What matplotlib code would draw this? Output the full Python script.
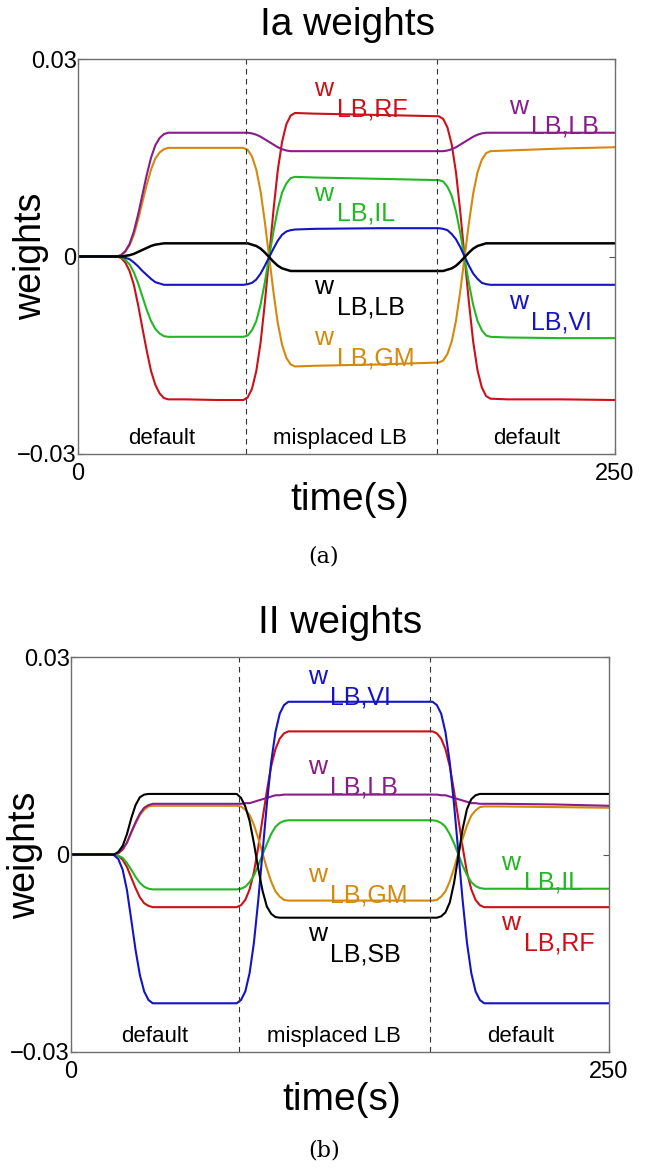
import matplotlib
matplotlib.use("Agg")
import matplotlib.pyplot as plt
from matplotlib.transforms import offset_copy

plt.rcParams['font.family'] = ['Liberation Sans', 'DejaVu Sans']

# sample times (s), shared by every series
t = [0,
     18, 20, 22, 24, 26, 28, 30, 32, 34, 36, 38, 40, 42,
     50, 65,
     77, 79, 81, 83, 85, 87, 89, 91, 93, 95, 97, 99, 101,
     110, 140,
     168, 170, 172, 174, 176, 178, 180, 182, 184, 186, 188, 190, 192,
     200, 225, 250]

# (a) Ia weights
ia_rf = [0,
         0, -0.0002, -0.0009, -0.0022, -0.0043, -0.0074, -0.0109, -0.0143, -0.0174, -0.0195, -0.0208, -0.0215, -0.0217,
         -0.0217, -0.0218,
         -0.0218, -0.0214, -0.0201, -0.0174, -0.0131, -0.0070, 0.0000, 0.0070, 0.0131, 0.0174, 0.0201, 0.0214, 0.0218,
         0.0217, 0.0215,
         0.0213, 0.0209, 0.0196, 0.0170, 0.0127, 0.0067, -0.0002, -0.0070, -0.0130, -0.0173, -0.0199, -0.0212, -0.0216,
         -0.0217, -0.0217, -0.0218]
ia_gm = [0,
         0, 0.0002, 0.0007, 0.0017, 0.0033, 0.0056, 0.0083, 0.0109, 0.0132, 0.0149, 0.0158, 0.0163, 0.0165,
         0.0165, 0.0165,
         0.0165, 0.0162, 0.0152, 0.0132, 0.0099, 0.0052, -0.0001, -0.0054, -0.0101, -0.0134, -0.0154, -0.0164, -0.0167,
         -0.0166, -0.0164,
         -0.0161, -0.0158, -0.0148, -0.0129, -0.0097, -0.0052, 0.0000, 0.0051, 0.0096, 0.0128, 0.0147, 0.0157, 0.0160,
         0.0161, 0.0164, 0.0166]
ia_lb = [0,
         0, 0.0002, 0.0008, 0.0019, 0.0038, 0.0064, 0.0094, 0.0124, 0.0150, 0.0169, 0.0180, 0.0186, 0.0188,
         0.0188, 0.0188,
         0.0188, 0.0188, 0.0187, 0.0185, 0.0182, 0.0178, 0.0174, 0.0170, 0.0166, 0.0163, 0.0161, 0.0160, 0.0160,
         0.0160, 0.0160,
         0.0160, 0.0160, 0.0161, 0.0163, 0.0166, 0.0170, 0.0174, 0.0178, 0.0182, 0.0185, 0.0187, 0.0188, 0.0188,
         0.0188, 0.0188, 0.0188]
ia_il = [0,
         0, -0.0001, -0.0005, -0.0012, -0.0024, -0.0041, -0.0061, -0.0081, -0.0098, -0.0110, -0.0117, -0.0121, -0.0122,
         -0.0122, -0.0122,
         -0.0122, -0.0120, -0.0112, -0.0098, -0.0073, -0.0039, 0.0000, 0.0038, 0.0072, 0.0097, 0.0111, 0.0119, 0.0121,
         0.0120, 0.0118,
         0.0116, 0.0114, 0.0106, 0.0092, 0.0068, 0.0035, -0.0003, -0.0041, -0.0074, -0.0098, -0.0112, -0.0120, -0.0122,
         -0.0123, -0.0124, -0.0124]
ia_vi = [0,
         0, 0.0000, -0.0002, -0.0004, -0.0009, -0.0015, -0.0022, -0.0028, -0.0034, -0.0039, -0.0041, -0.0043, -0.0043,
         -0.0043, -0.0043,
         -0.0043, -0.0042, -0.0040, -0.0035, -0.0026, -0.0014, -0.0001, 0.0012, 0.0024, 0.0033, 0.0038, 0.0040, 0.0041,
         0.0042, 0.0043,
         0.0043, 0.0042, 0.0040, 0.0034, 0.0026, 0.0014, 0.0000, -0.0014, -0.0026, -0.0034, -0.0040, -0.0042, -0.0043,
         -0.0043, -0.0043, -0.0043]
ia_sb = [0,
         0, 0.0000, 0.0001, 0.0002, 0.0004, 0.0007, 0.0010, 0.0013, 0.0016, 0.0018, 0.0019, 0.0020, 0.0020,
         0.0020, 0.0020,
         0.0020, 0.0020, 0.0018, 0.0016, 0.0012, 0.0006, -0.0001, -0.0008, -0.0014, -0.0018, -0.0020, -0.0022, -0.0022,
         -0.0022, -0.0022,
         -0.0022, -0.0022, -0.0020, -0.0018, -0.0014, -0.0008, -0.0001, 0.0006, 0.0012, 0.0016, 0.0018, 0.0020, 0.0020,
         0.0020, 0.0020, 0.0020]

# (b) II weights
ii_vi = [0,
         0, -0.0001, -0.0007, -0.0023, -0.0054, -0.0099, -0.0145, -0.0183, -0.0208, -0.0221, -0.0226, -0.0226, -0.0226,
         -0.0226, -0.0226,
         -0.0226, -0.0221, -0.0208, -0.0180, -0.0134, -0.0070, 0.0003, 0.0076, 0.0140, 0.0186, 0.0214, 0.0227, 0.0232,
         0.0232, 0.0232,
         0.0232, 0.0227, 0.0214, 0.0186, 0.0140, 0.0076, 0.0003, -0.0070, -0.0134, -0.0180, -0.0208, -0.0221, -0.0226,
         -0.0226, -0.0226, -0.0226]
ii_rf = [0,
         0, 0.0000, -0.0002, -0.0008, -0.0019, -0.0035, -0.0051, -0.0065, -0.0074, -0.0078, -0.0080, -0.0080, -0.0080,
         -0.0080, -0.0080,
         -0.0080, -0.0077, -0.0069, -0.0053, -0.0027, 0.0011, 0.0054, 0.0096, 0.0134, 0.0160, 0.0176, 0.0184, 0.0187,
         0.0187, 0.0187,
         0.0187, 0.0184, 0.0176, 0.0160, 0.0134, 0.0096, 0.0054, 0.0011, -0.0027, -0.0053, -0.0069, -0.0077, -0.0080,
         -0.0080, -0.0080, -0.0080]
ii_lb = [0,
         0, 0.0000, 0.0002, 0.0008, 0.0018, 0.0034, 0.0049, 0.0062, 0.0071, 0.0075, 0.0077, 0.0077, 0.0077,
         0.0077, 0.0077,
         0.0077, 0.0077, 0.0078, 0.0078, 0.0080, 0.0082, 0.0084, 0.0086, 0.0088, 0.0090, 0.0090, 0.0091, 0.0091,
         0.0091, 0.0091,
         0.0091, 0.0091, 0.0090, 0.0090, 0.0088, 0.0086, 0.0084, 0.0082, 0.0080, 0.0078, 0.0078, 0.0077, 0.0077,
         0.0077, 0.0076, 0.0074]
ii_sb = [0,
         0, 0.0000, 0.0004, 0.0013, 0.0031, 0.0055, 0.0075, 0.0087, 0.0091, 0.0092, 0.0092, 0.0092, 0.0092,
         0.0092, 0.0092,
         0.0092, 0.0086, 0.0073, 0.0051, 0.0017, -0.0021, -0.0055, -0.0079, -0.0090, -0.0095, -0.0096, -0.0096, -0.0096,
         -0.0096, -0.0096,
         -0.0096, -0.0096, -0.0094, -0.0088, -0.0073, -0.0043, -0.0002, 0.0039, 0.0069, 0.0084, 0.0090, 0.0092, 0.0092,
         0.0092, 0.0092, 0.0092]
ii_gm = [0,
         0, 0.0000, 0.0002, 0.0007, 0.0018, 0.0033, 0.0047, 0.0060, 0.0068, 0.0073, 0.0074, 0.0074, 0.0074,
         0.0074, 0.0074,
         0.0074, 0.0073, 0.0068, 0.0060, 0.0045, 0.0025, 0.0002, -0.0021, -0.0041, -0.0056, -0.0064, -0.0069, -0.0070,
         -0.0070, -0.0070,
         -0.0070, -0.0069, -0.0064, -0.0056, -0.0041, -0.0021, 0.0002, 0.0024, 0.0044, 0.0059, 0.0067, 0.0072, 0.0073,
         0.0073, 0.0072, 0.0071]
ii_il = [0,
         0, 0.0000, -0.0002, -0.0005, -0.0013, -0.0023, -0.0034, -0.0043, -0.0049, -0.0052, -0.0053, -0.0053, -0.0053,
         -0.0053, -0.0053,
         -0.0053, -0.0052, -0.0049, -0.0042, -0.0032, -0.0017, 0.0000, 0.0016, 0.0031, 0.0042, 0.0048, 0.0051, 0.0052,
         0.0052, 0.0052,
         0.0052, 0.0051, 0.0048, 0.0042, 0.0031, 0.0017, 0.0000, -0.0017, -0.0031, -0.0042, -0.0048, -0.0051, -0.0052,
         -0.0052, -0.0052, -0.0052]

switch_times = [78, 167]
phase_names = ['default', 'misplaced LB', 'default']
phase_x = [39, 122, 209]

RED, ORANGE, PURPLE = '#cc1018', '#d4880c', '#8a1c8a'
GREEN, BLUE, BLACK = '#22b822', '#1414c4', '#000000'

fig = plt.figure(figsize=(6.48, 11.74), dpi=100)
ax1 = fig.add_axes([78/648, 1-454/1174, 537/648, 395/1174])
ax2 = fig.add_axes([71/648, 1-1052/1174, 538/648, 395/1174])


def style(ax):
    ax.set_xlim(0, 250)
    ax.set_ylim(-0.03, 0.03)
    ax.set_xticks([0, 250])
    ax.set_xticklabels(['0', '250'])
    ax.set_yticks([-0.03, 0, 0.03])
    ax.set_yticklabels(['\u22120.03', '0', '0.03'])
    ax.tick_params(direction='in', length=4, width=0.8, color='#555555',
                   labelsize=17, top=True, right=True)
    ax.tick_params(axis='y', pad=1)
    ax.tick_params(axis='x', pad=6.5)
    for s in ax.spines.values():
        s.set_color('#6e6e6e')
        s.set_linewidth(1.0)
    for x in switch_times:
        ax.axvline(x, color='#333333', lw=0.8, ls=(0, (5, 4)))
    for x, name in zip(phase_x, phase_names):
        ax.text(x, -0.0293, name, ha='center', va='bottom', fontsize=16)


def wlabel(ax, x, y, sub, color):
    ax.text(x, y, 'w', color=color, fontsize=19, va='baseline', ha='left')
    tr = offset_copy(ax.transData, fig=fig, x=16, y=-14.5, units='points')
    ax.text(x, y, sub, color=color, fontsize=18, va='baseline', ha='left', transform=tr)


lw = 1.5
ax1.plot(t, ia_rf, color=RED, lw=lw)
ax1.plot(t, ia_gm, color=ORANGE, lw=lw)
ax1.plot(t, ia_lb, color=PURPLE, lw=lw)
ax1.plot(t, ia_il, color=GREEN, lw=lw)
ax1.plot(t, ia_vi, color=BLUE, lw=lw)
ax1.plot(t, ia_sb, color=BLACK, lw=1.8)
style(ax1)
wlabel(ax1, 110, 0.0244, 'LB,RF', RED)
wlabel(ax1, 200.5, 0.0217, 'LB,LB', PURPLE)
wlabel(ax1, 110, 0.0085, 'LB,IL', GREEN)
wlabel(ax1, 110, -0.0057, 'LB,LB', BLACK)
wlabel(ax1, 110, -0.0135, 'LB,GM', ORANGE)
wlabel(ax1, 200.5, -0.0080, 'LB,VI', BLUE)

ax2.plot(t, ii_rf, color=RED, lw=lw)
ax2.plot(t, ii_gm, color=ORANGE, lw=lw)
ax2.plot(t, ii_lb, color=PURPLE, lw=lw)
ax2.plot(t, ii_il, color=GREEN, lw=lw)
ax2.plot(t, ii_vi, color=BLUE, lw=lw)
ax2.plot(t, ii_sb, color=BLACK, lw=lw)
style(ax2)
wlabel(ax2, 110, 0.0259, 'LB,VI', BLUE)
wlabel(ax2, 110, 0.0122, 'LB,LB', PURPLE)
wlabel(ax2, 110, -0.0042, 'LB,GM', ORANGE)
wlabel(ax2, 110, -0.0132, 'LB,SB', BLACK)
wlabel(ax2, 200, -0.0023, 'LB,IL', GREEN)
wlabel(ax2, 200, -0.0115, 'LB,RF', RED)

# titles, axis labels and captions
fig.text(347/648, 1-25/1174, 'Ia weights', ha='center', va='center', fontsize=28)
fig.text(340/648, 1-623/1174, 'II weights', ha='center', va='center', fontsize=28)
fig.text(31/648, 1-256/1174, 'weights', rotation=90, ha='center', va='center', fontsize=27)
fig.text(25/648, 1-855/1174, 'weights', rotation=90, ha='center', va='center', fontsize=27)
fig.text(350/648, 1-500/1174, 'time(s)', ha='center', va='center', fontsize=28)
fig.text(342/648, 1-1100/1174, 'time(s)', ha='center', va='center', fontsize=28)
fig.text(324/648, 1-557/1174, '(a)', ha='center', va='center', fontsize=16, family='DejaVu Serif')
fig.text(324/648, 1-1150/1174, '(b)', ha='center', va='center', fontsize=16, family='DejaVu Serif')

fig.savefig('out.png', dpi=100)
